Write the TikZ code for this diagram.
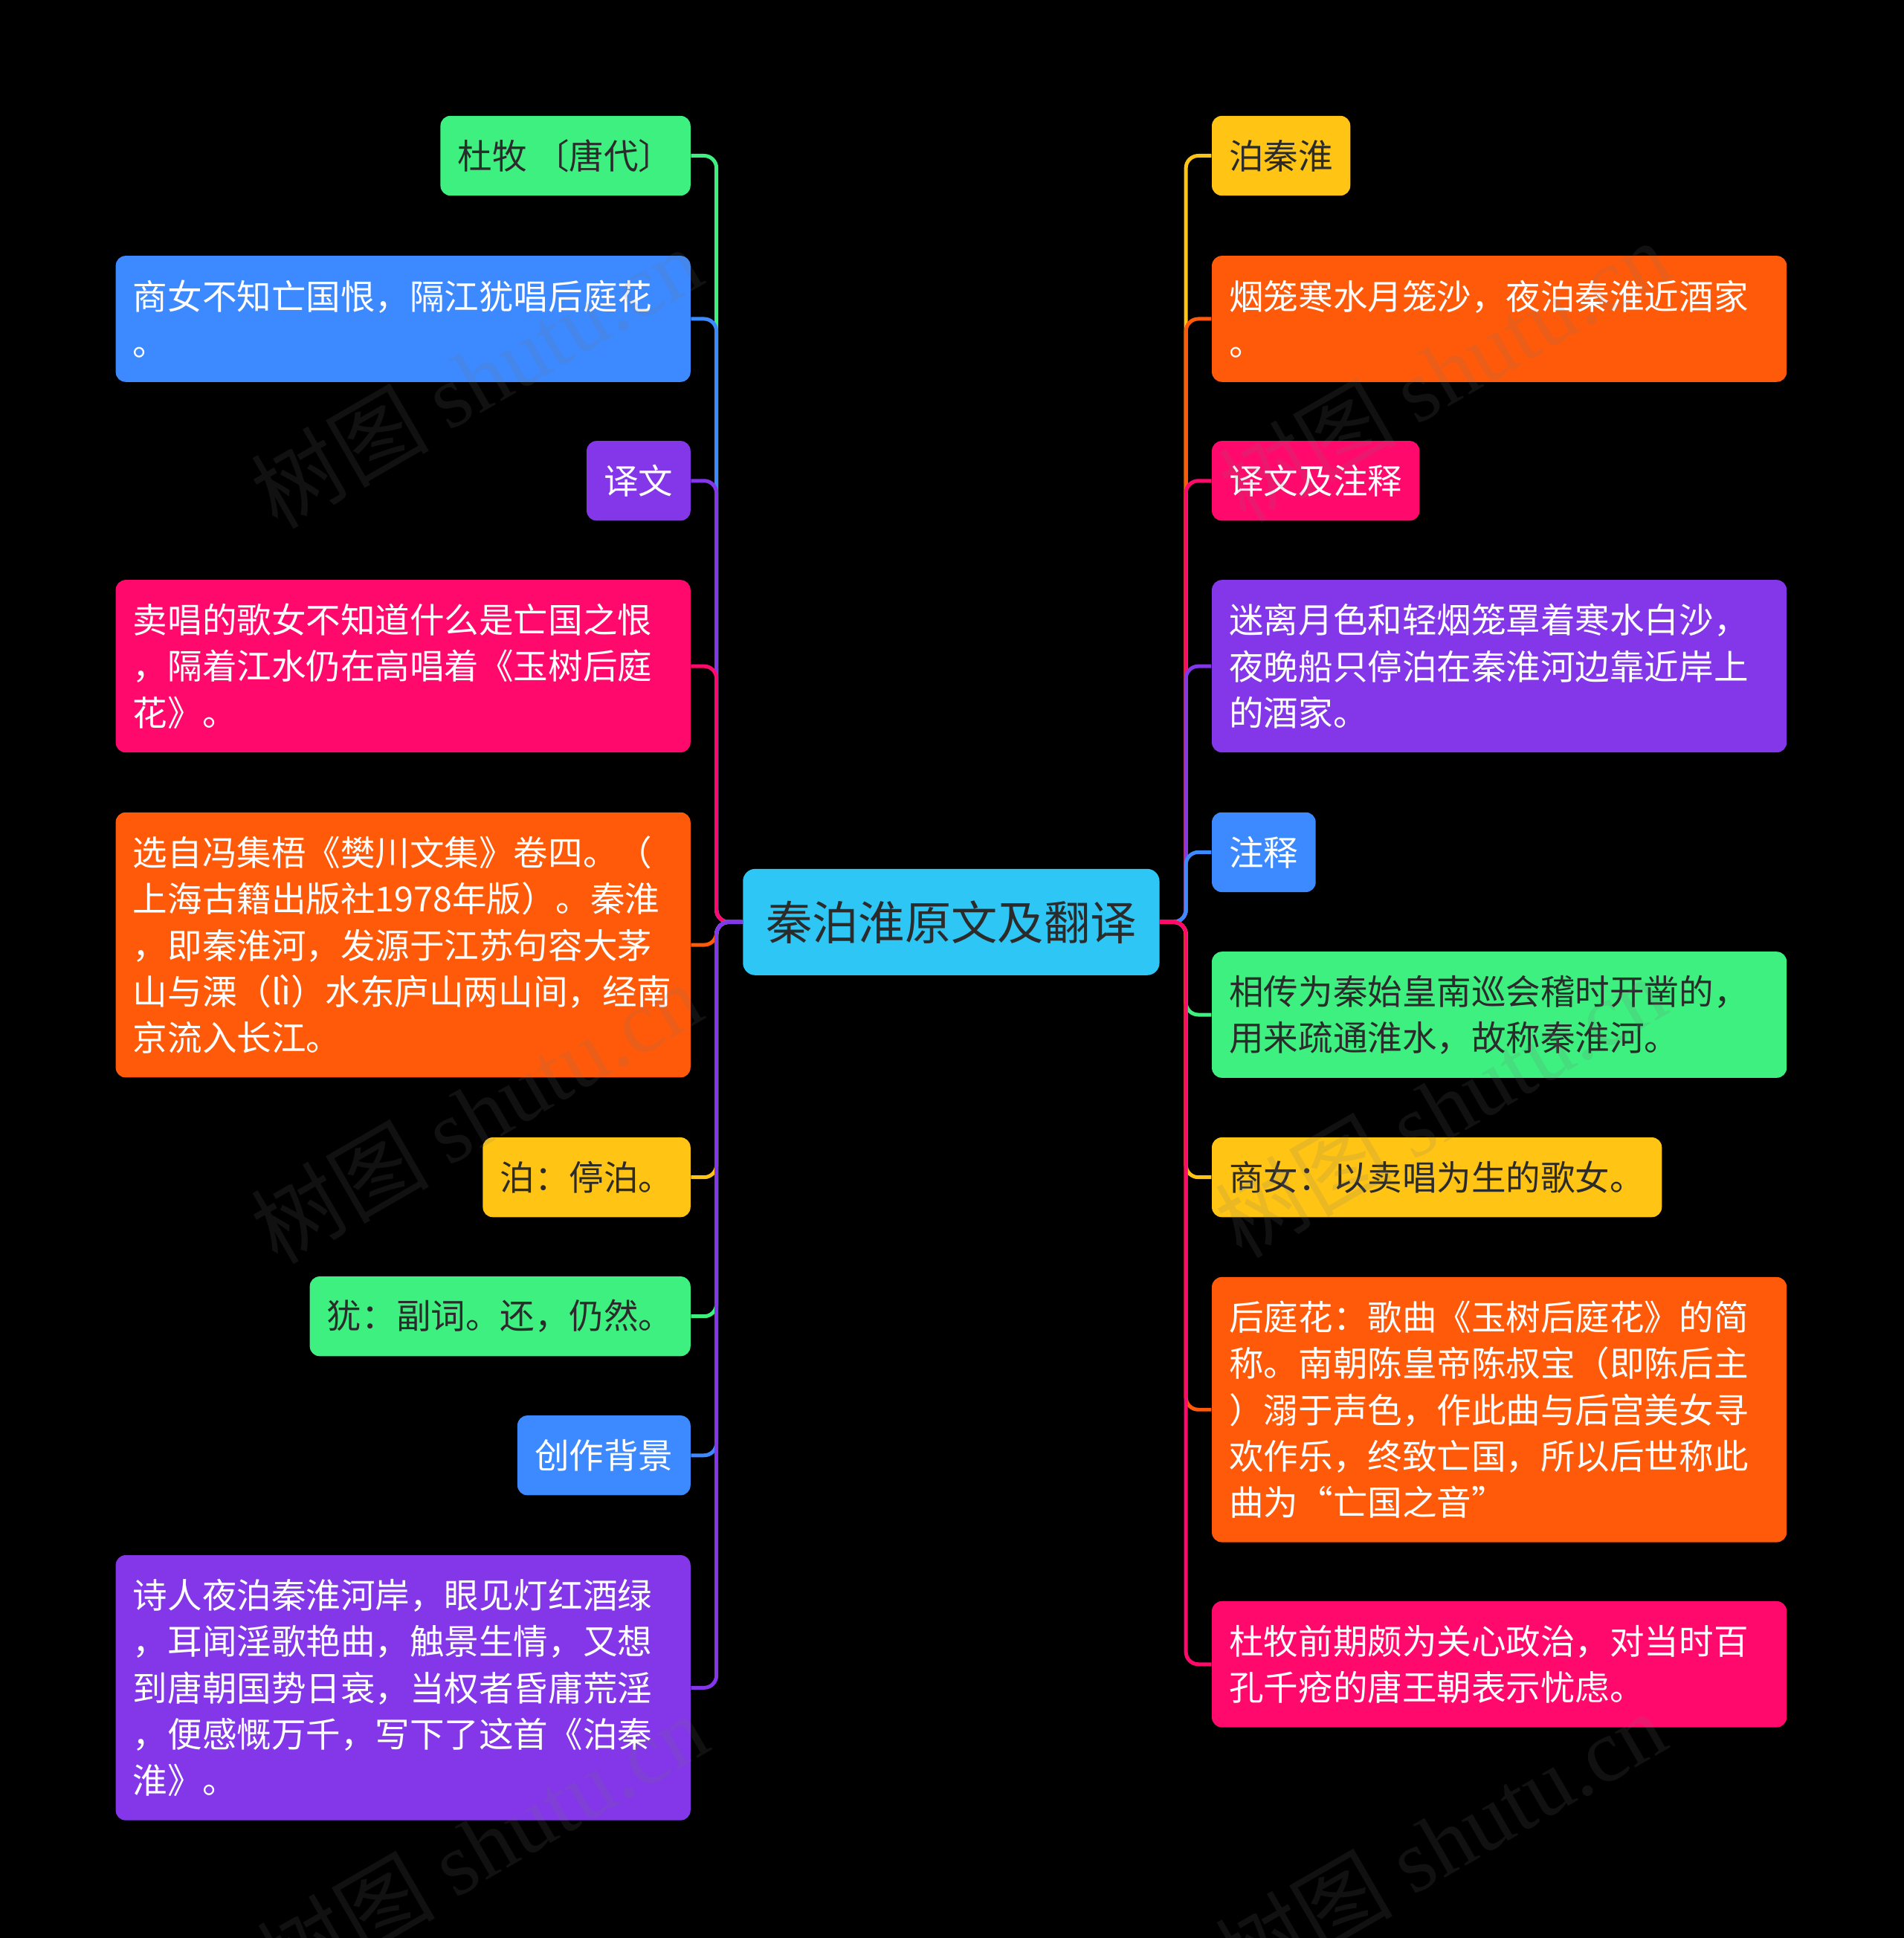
\documentclass[tikz,border=0pt]{standalone}
\usepackage{fontspec}
\setmainfont{Noto Sans CJK SC}
\newfontfamily\wmfont{Liberation Serif}
\definecolor{mgreen}{HTML}{3DF080}
\definecolor{mblue}{HTML}{3D89FF}
\definecolor{mpurple}{HTML}{8337E8}
\definecolor{mpink}{HTML}{FF0A6C}
\definecolor{morange}{HTML}{FF5A0A}
\definecolor{myellow}{HTML}{FFC414}
\definecolor{mcyan}{HTML}{2EC6F4}
\definecolor{mdark}{HTML}{2B2B2B}
\definecolor{wmgray}{HTML}{757575}
\begin{document}
\begin{tikzpicture}[x=0.5pt,y=-0.5pt,
    topic/.style={rounded corners=4pt,inner xsep=7pt,inner ysep=0pt,align=left,
      font=\fontsize{14}{18.75}\selectfont,text=white,minimum height=32.25pt},
    lines/.style={minimum height=13.5pt+18.75pt*#1},
    wide/.style={text width=218.5pt},
    link/.style={line width=1.5pt,rounded corners=5pt},
    wmark/.style={rotate=30,text=wmgray,opacity=0.15,font=\fontsize{36}{36}\selectfont}]
  \useasboundingbox (0,0) rectangle (1540,1568);
  \fill[black] (-10,-10) rectangle (1550,1578);

  \node[topic,fill=mcyan,text=mdark,rounded corners=5pt,inner xsep=9.25pt,minimum height=43pt,
    font=\fontsize{18.75}{22}\selectfont] (root) at (769.5,746) {秦泊淮原文及翻译};

  % left side
  \node[topic,anchor=east,fill=mgreen,text=mdark] (l1) at (559,126) {杜牧 〔唐代〕};
  \node[topic,wide,lines=2,anchor=east,fill=mblue] (l2) at (559,258) {商女不知亡国恨，隔江犹唱后庭花\\。};
  \node[topic,anchor=east,fill=mpurple] (l3) at (559,389) {译文};
  \node[topic,wide,lines=3,anchor=east,fill=mpink] (l4) at (559,539)
    {卖唱的歌女不知道什么是亡国之恨\\，隔着江水仍在高唱着《玉树后庭\\花》。};
  \node[topic,wide,lines=5,anchor=east,fill=morange] (l5) at (559,764.5)
    {选自冯集梧《樊川文集》卷四。（\\上海古籍出版社1978年版）。秦淮\\，即秦淮河，发源于江苏句容大茅\\山与溧（lì）水东庐山两山间，经南\\京流入长江。};
  \node[topic,anchor=east,fill=myellow,text=mdark] (l6) at (559,952.5) {泊：停泊。};
  \node[topic,anchor=east,fill=mgreen,text=mdark] (l7) at (559,1065) {犹：副词。还，仍然。};
  \node[topic,anchor=east,fill=mblue] (l8) at (559,1177.5) {创作背景};
  \node[topic,wide,lines=5,anchor=east,fill=mpurple] (l9) at (559,1365.5)
    {诗人夜泊秦淮河岸，眼见灯红酒绿\\，耳闻淫歌艳曲，触景生情，又想\\到唐朝国势日衰，当权者昏庸荒淫\\，便感慨万千，写下了这首《泊秦\\淮》。};

  % right side
  \node[topic,anchor=west,fill=myellow,text=mdark] (r1) at (980,126) {泊秦淮};
  \node[topic,wide,lines=2,anchor=west,fill=morange] (r2) at (980,258) {烟笼寒水月笼沙，夜泊秦淮近酒家\\。};
  \node[topic,anchor=west,fill=mpink] (r3) at (980,389) {译文及注释};
  \node[topic,wide,lines=3,anchor=west,fill=mpurple] (r4) at (980,539)
    {迷离月色和轻烟笼罩着寒水白沙，\\夜晚船只停泊在秦淮河边靠近岸上\\的酒家。};
  \node[topic,anchor=west,fill=mblue] (r5) at (980,689.5) {注释};
  \node[topic,wide,lines=2,anchor=west,fill=mgreen,text=mdark] (r6) at (980,821)
    {相传为秦始皇南巡会稽时开凿的，\\用来疏通淮水，故称秦淮河。};
  \node[topic,anchor=west,fill=myellow,text=mdark] (r7) at (980,952.5) {商女：以卖唱为生的歌女。};
  \node[topic,wide,lines=5,anchor=west,fill=morange] (r8) at (980,1140.5)
    {后庭花：歌曲《玉树后庭花》的简\\称。南朝陈皇帝陈叔宝（即陈后主\\）溺于声色，作此曲与后宫美女寻\\欢作乐，终致亡国，所以后世称此\\曲为“亡国之音”};
  \node[topic,wide,lines=2,anchor=west,fill=mpink] (r9) at (980,1346.5)
    {杜牧前期颇为关心政治，对当时百\\孔千疮的唐王朝表示忧虑。};

  % connectors
  \foreach \n/\c in {l1/mgreen,l2/mblue,l3/mpurple,l4/mpink,l5/morange,l6/myellow,l7/mgreen,l8/mblue,l9/mpurple}
    \draw[link,\c] (root.west) -- ++(-21,0) |- (\n.east);
  \foreach \n/\c in {r1/myellow,r2/morange,r3/mpink,r4/mpurple,r5/mblue,r6/mgreen,r7/myellow,r8/morange,r9/mpink}
    \draw[link,\c] (root.east) -- ++(21,0) |- (\n.west);

  % watermarks
  \foreach \p [count=\i] in {(385,305),(1168,300),(385,900),(1165,895),(390,1492),(1165,1490)}
    \node[wmark] (wm\i) at \p {树图 {\wmfont shutu.cn}};
\end{tikzpicture}
\end{document}
